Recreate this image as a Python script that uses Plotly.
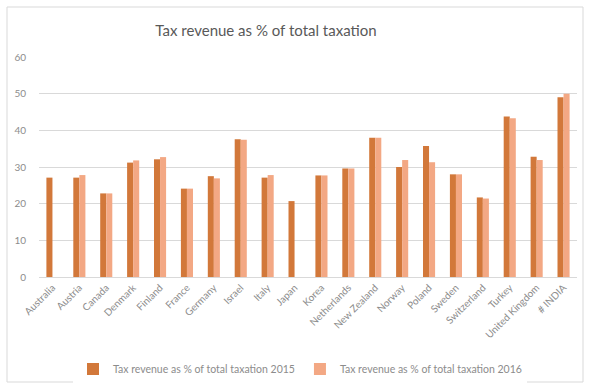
import plotly.graph_objects as go

categories = ["Australia", "Austria", "Canada", "Denmark", "Finland", "France", "Germany",
              "Israel", "Italy", "Japan", "Korea", "Netherlands", "New Zealand", "Norway",
              "Poland", "Sweden", "Switzerland", "Turkey", "United Kingdom", "# INDIA"]
values_2015 = [27.1, 27.1, 22.8, 31.2, 32.1, 24.1, 27.5, 37.6, 27.1, 20.7,
               27.7, 29.6, 38.0, 30.0, 35.7, 28.0, 21.7, 43.8, 32.8, 49.0]
values_2016 = [None, 27.8, 22.8, 31.8, 32.7, 24.1, 26.9, 37.4, 27.8, None,
               27.7, 29.6, 38.0, 31.9, 31.3, 28.0, 21.4, 43.3, 31.9, 50.0]
name_2015 = "Tax revenue as % of total taxation 2015"
name_2016 = "Tax revenue as % of total taxation 2016"
title_text = "Tax revenue as % of total taxation"
y_ticks = [0, 10, 20, 30, 40, 50, 60]

gray = "#8c8c8c"
font_family = "Lato, Open Sans, sans-serif"

fig = go.Figure()
fig.add_trace(go.Bar(x=categories, y=values_2015, name=name_2015,
                     marker=dict(color="#D2783A", line=dict(width=0))))
fig.add_trace(go.Bar(x=categories, y=values_2016, name=name_2016,
                     marker=dict(color="#F3A884", line=dict(width=0))))

W, H = 589, 385
l, r, t, b = 39, 12, 57, 108
pw, ph = W - l - r, H - t - b

def px_to_paper_x(px):
    return (px - l) / pw

def px_to_paper_y(py):
    return (H - b - py) / ph

fig.update_layout(
    width=W, height=H,
    margin=dict(l=l, r=r, t=t, b=b, autoexpand=False),
    paper_bgcolor="white", plot_bgcolor="white",
    barmode="group", bargap=0.55, bargroupgap=0,
    font=dict(family=font_family, color=gray, size=10),
    title=dict(text=title_text, x=266 / W, xanchor="center",
               y=1 - 31 / H, yanchor="middle",
               font=dict(size=15, color="#595959", family=font_family)),
    xaxis=dict(tickangle=-45, tickfont=dict(size=10, color=gray), showgrid=False,
               showline=True, linecolor="#d9d9d9", linewidth=1, ticks="",
               automargin=False),
    yaxis=dict(range=[0, 60], tickvals=y_ticks, showgrid=True, gridcolor="#d9d9d9",
               gridwidth=1, zeroline=False, showline=False, ticks="",
               ticklabelstandoff=12,
               tickfont=dict(size=10, color=gray), automargin=False),
    legend=dict(orientation="h", x=px_to_paper_x(300), xanchor="center",
                y=px_to_paper_y(369), yanchor="middle",
                font=dict(size=10.5, color=gray),
                itemwidth=30, tracegroupgap=0),
    showlegend=True,
)

fig.add_shape(type="rect", xref="paper", yref="paper",
              x0=px_to_paper_x(7), x1=px_to_paper_x(583),
              y0=px_to_paper_y(382), y1=px_to_paper_y(7),
              line=dict(color="#d9d9d9", width=1), fillcolor="rgba(0,0,0,0)",
              layer="below")

fig.write_html("out.html")
